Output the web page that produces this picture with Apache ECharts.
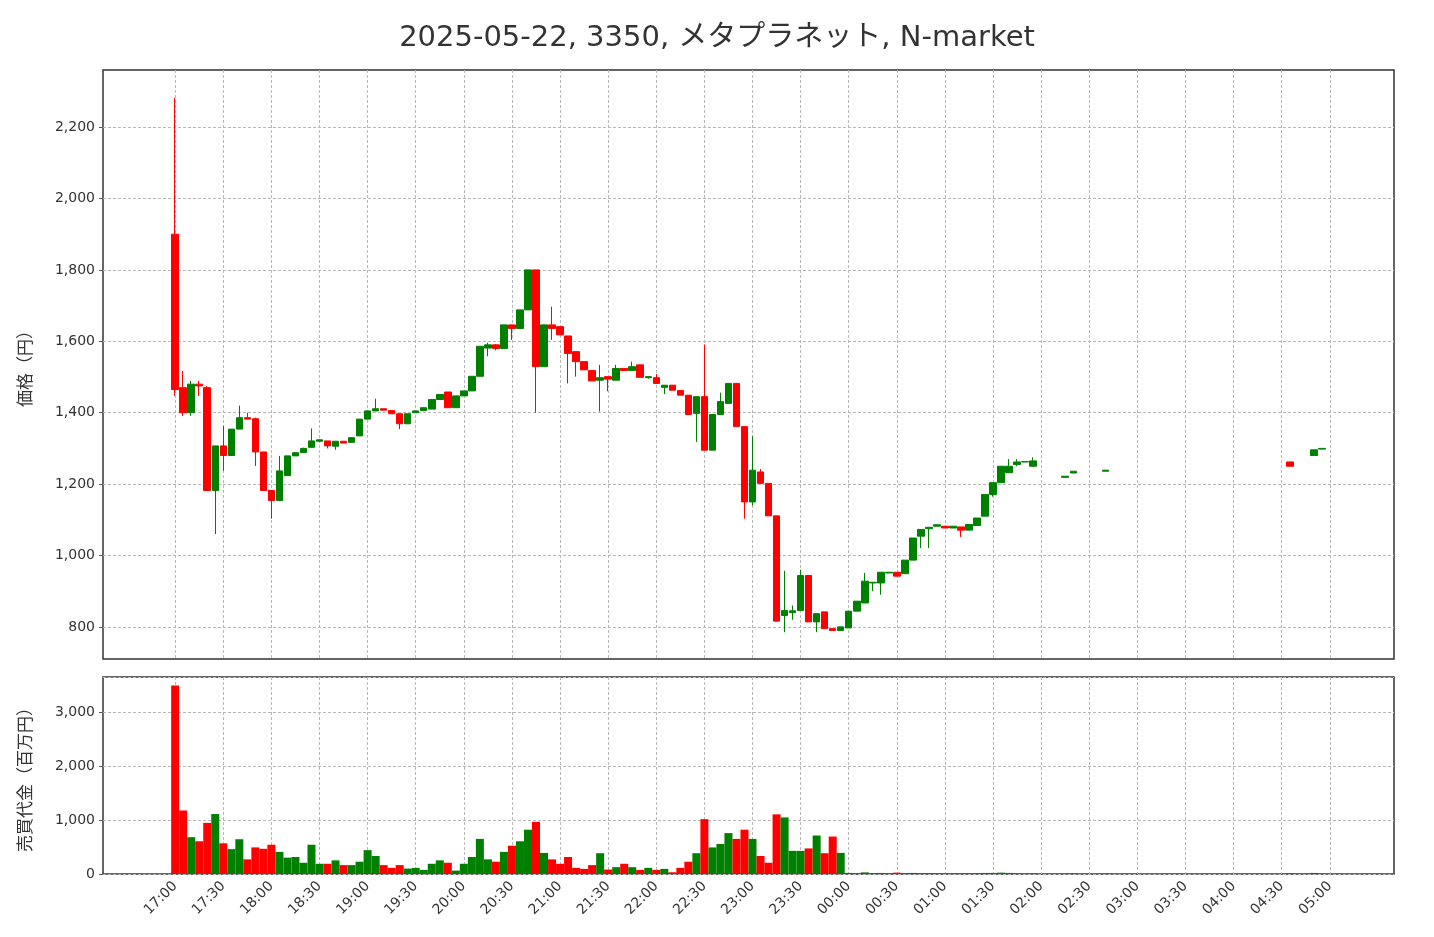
<!DOCTYPE html>
<html>
<head>
<meta charset="utf-8">
<script src="https://cdn.jsdelivr.net/npm/echarts@6/dist/echarts.min.js"></script>
<style>
  html, body { margin: 0; padding: 0; background: #fff; }
  #chart { width: 1434px; height: 937px; }
</style>
</head>
<body>
<div id="chart"></div>
<script>
// 5-minute candles (time, open, close, low, high) and trading value (百万円)
const times = ['17:00','17:05','17:10','17:15','17:20','17:25','17:30','17:35','17:40','17:45','17:50','17:55',
  '18:00','18:05','18:10','18:15','18:20','18:25','18:30','18:35','18:40','18:45','18:50','18:55',
  '19:00','19:05','19:10','19:15','19:20','19:25','19:30','19:35','19:40','19:45','19:50','19:55',
  '20:00','20:05','20:10','20:15','20:20','20:25','20:30','20:35','20:40','20:45','20:50','20:55',
  '21:00','21:05','21:10','21:15','21:20','21:25','21:30','21:35','21:40','21:45','21:50','21:55',
  '22:00','22:05','22:10','22:15','22:20','22:25','22:30','22:35','22:40','22:45','22:50','22:55',
  '23:00','23:05','23:10','23:15','23:20','23:25','23:30','23:35','23:40','23:45','23:50','23:55',
  '00:00','00:05','00:10','00:15','00:20','00:25','00:30','00:35','00:40','00:45','00:50','00:55',
  '01:00','01:05','01:10','01:15','01:20','01:25','01:30','01:35','01:40','01:45','01:50','01:55',
  '02:15','02:20','02:40','04:35','04:50','04:55'];
const opens = [1900,1470,1400,1480,1470,1182,1307,1280,1354,1386,1383,1290,
  1182,1154,1224,1279,1288,1303,1320,1321,1306,1320,1317,1335,
  1382,1405,1411,1406,1397,1369,1400,1406,1410,1437,1458,1414,
  1447,1461,1502,1581,1590,1580,1646,1636,1688,1800,1529,1646,
  1641,1615,1571,1543,1518,1491,1501,1491,1524,1518,1534,1498,
  1498,1471,1477,1462,1449,1398,1445,1295,1395,1426,1482,1361,
  1150,1234,1202,1111,832,840,846,944,814,842,795,790,
  797,844,867,923,923,951,953,949,987,1054,1075,1082,
  1082,1077,1080,1071,1084,1110,1171,1204,1232,1255,1262,1250,
  1219,1231,1236,1262,1280,1298];
const closes = [1465,1400,1480,1475,1182,1307,1280,1354,1386,1382,1290,1182,
  1154,1237,1279,1288,1300,1321,1324,1307,1320,1315,1330,1382,
  1405,1411,1407,1397,1369,1397,1405,1414,1437,1451,1414,1447,
  1461,1502,1586,1590,1580,1646,1636,1688,1800,1529,1646,1636,
  1618,1566,1543,1520,1489,1498,1494,1524,1518,1529,1499,1501,
  1482,1477,1463,1449,1395,1445,1295,1395,1431,1482,1361,1150,
  1239,1202,1111,816,846,845,944,814,837,795,790,800,
  844,872,928,925,953,953,942,987,1049,1073,1079,1086,
  1077,1082,1071,1087,1105,1171,1204,1250,1250,1262,1263,1265,
  1222,1236,1239,1250,1296,1300];
const lows = [1447,1391,1391,1447,1182,1060,1237,1280,1354,1382,1251,1182,
  1103,1154,1224,1279,1288,1303,1320,1300,1296,1315,1317,1335,
  1382,1405,1407,1397,1354,1369,1400,1406,1410,1437,1414,1414,
  1447,1461,1502,1558,1575,1580,1604,1636,1688,1400,1529,1604,
  1618,1482,1501,1520,1489,1403,1460,1491,1518,1518,1499,1495,
  1482,1452,1463,1449,1395,1318,1295,1295,1395,1426,1361,1103,
  1140,1202,1111,816,785,820,846,814,785,795,790,790,
  797,844,867,900,890,951,942,949,987,1021,1021,1082,
  1077,1077,1052,1071,1084,1110,1165,1204,1232,1250,1262,1248,
  1219,1231,1236,1250,1280,1298];
const highs = [2282,1517,1489,1489,1475,1307,1363,1354,1420,1400,1386,1290,
  1182,1279,1279,1290,1302,1356,1326,1321,1320,1320,1330,1382,
  1405,1439,1411,1406,1397,1397,1405,1414,1437,1451,1458,1447,
  1461,1502,1586,1596,1592,1646,1646,1688,1800,1800,1646,1697,
  1641,1615,1571,1543,1518,1534,1501,1534,1524,1543,1534,1501,
  1508,1477,1477,1462,1449,1445,1591,1395,1456,1482,1482,1361,
  1334,1242,1202,1111,957,860,960,944,837,842,795,800,
  844,872,951,925,953,953,953,987,1049,1073,1079,1086,
  1082,1082,1080,1087,1105,1171,1204,1250,1270,1270,1263,1275,
  1222,1236,1239,1262,1296,1300];
const volumes = [3500,1180,684,608,950,1114,570,462,646,272,494,468,
  544,411,304,316,209,544,190,190,253,165,165,228,
  443,335,165,114,165,101,114,76,190,253,209,63,
  190,316,652,272,228,411,525,608,823,969,392,272,
  190,316,114,95,165,386,82,127,190,127,76,114,
  76,95,32,114,228,386,1019,494,557,760,652,823,
  652,335,209,1108,1051,430,430,475,715,386,696,392,
  20,15,30,15,20,10,25,15,20,15,15,10,
  10,10,10,10,15,20,20,25,20,10,5,10,
  5,10,5,15,20,5];

// axis slots: every 5 minutes from 16:15 to 05:40
const categories = [];
for (let m = 16 * 60 + 15; m <= 29 * 60 + 40; m += 5) {
  const h = Math.floor(m / 60) % 24, mm = m % 60;
  categories.push(String(h).padStart(2, '0') + ':' + String(mm).padStart(2, '0'));
}
const priceTicks = [800, 1000, 1200, 1400, 1600, 1800, 2000, 2200];

const UP = '#008000', DOWN = '#ff0000';
const candleData = categories.map(() => '-');
const volData = categories.map(() => null);
times.forEach((t, i) => {
  const k = categories.indexOf(t);
  candleData[k] = [opens[i], closes[i], lows[i], highs[i]];
  volData[k] = {value: volumes[i], itemStyle: {color: closes[i] >= opens[i] ? UP : DOWN}};
});

const first = categories.indexOf('17:00'), last = categories.indexOf('05:00');
const onHalfHour = (idx, v) => idx >= first && idx <= last && (v.endsWith(':00') || v.endsWith(':30'));
const fmt = v => v.toLocaleString('en-US');
const gridLine = {show: true, lineStyle: {color: '#b8b8b8', type: [3, 2], width: 1}};
const axisText = {color: '#333', fontSize: 14, fontFamily: 'DejaVu Sans'};
const nameStyle = {fontSize: 17, color: '#333', fontFamily: 'Noto Sans CJK JP'};

const chart = echarts.init(document.getElementById('chart'));
chart.setOption({
  animation: false,
  title: {
    text: '2025-05-22, 3350, メタプラネット, N-market',
    left: 'center', top: 19,
    textStyle: {fontSize: 29, fontWeight: 'normal', color: '#333', fontFamily: 'DejaVu Sans, Noto Sans CJK JP'}
  },
  grid: [
    {left: 103, right: 40, top: 70, height: 589, show: true, borderColor: '#333', borderWidth: 1.5},
    {left: 103, right: 40, top: 677, height: 197, show: true, borderColor: '#333', borderWidth: 1.5}
  ],
  xAxis: [
    {type: 'category', gridIndex: 0, data: categories, boundaryGap: false,
     axisLine: {show: false}, axisTick: {show: false}, axisLabel: {show: false},
     splitLine: Object.assign({interval: onHalfHour}, gridLine)},
    {type: 'category', gridIndex: 1, data: categories, boundaryGap: false,
     axisLine: {show: false}, axisTick: {show: false},
     axisLabel: Object.assign({interval: onHalfHour, rotate: 45, margin: 10}, axisText),
     splitLine: Object.assign({interval: onHalfHour}, gridLine)}
  ],
  yAxis: [
    {type: 'value', gridIndex: 0, min: 710, max: 2360, scale: true,
     name: '価格（円）', nameLocation: 'middle', nameGap: 70, nameRotate: 90, nameTextStyle: nameStyle,
     axisLine: {show: false}, axisTick: {show: true, customValues: priceTicks, length: 4},
     axisLabel: Object.assign({customValues: priceTicks, formatter: fmt}, axisText),
     splitLine: gridLine},
    {type: 'value', gridIndex: 1, min: 0, max: 3660, interval: 1000,
     name: '売買代金（百万円）', nameLocation: 'middle', nameGap: 70, nameRotate: 90, nameTextStyle: nameStyle,
     axisLine: {show: false}, axisTick: {show: true, length: 4},
     axisLabel: Object.assign({formatter: fmt, showMaxLabel: false}, axisText),
     splitLine: gridLine}
  ],
  series: [
    {type: 'candlestick', xAxisIndex: 0, yAxisIndex: 0, data: candleData, barWidth: 7,
     itemStyle: {color: UP, color0: DOWN, borderColor: UP, borderColor0: DOWN, borderWidth: 1}},
    {type: 'bar', xAxisIndex: 1, yAxisIndex: 1, data: volData, barWidth: 8, barGap: '-100%'}
  ]
});
</script>
</body>
</html>
